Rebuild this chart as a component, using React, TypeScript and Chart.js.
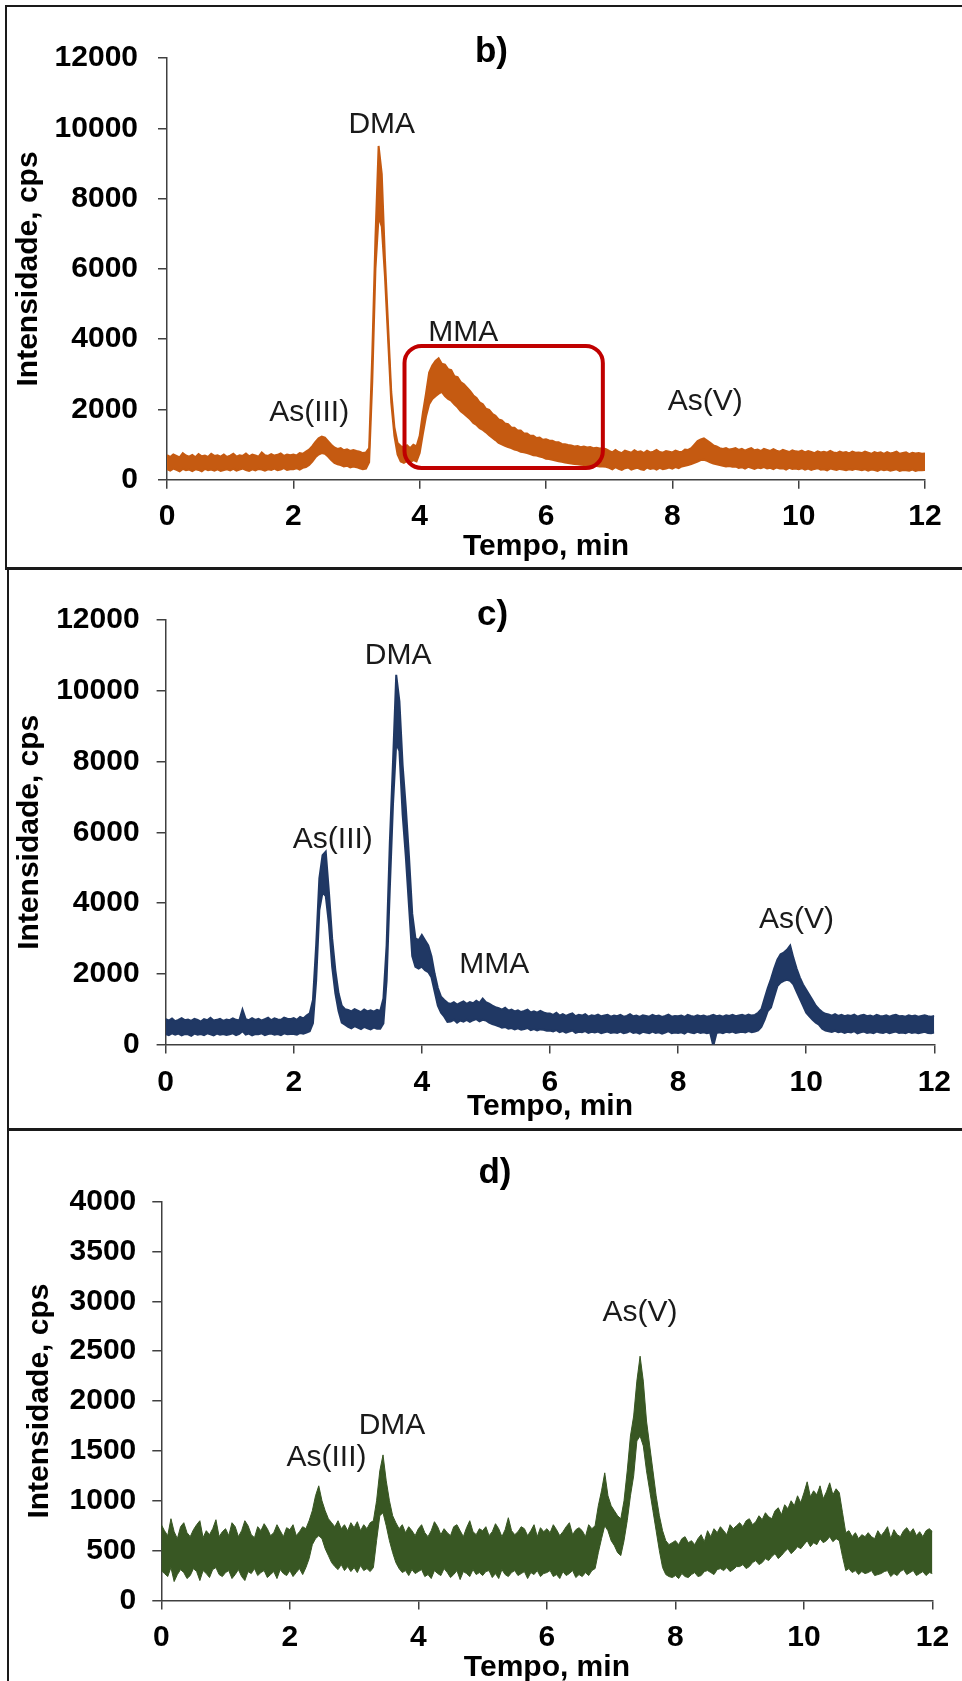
import React, { useEffect, useRef } from "react";
import { Chart, registerables } from "chart.js";

Chart.register(...registerables);

const FONT = '"Liberation Sans", Arial, Helvetica, sans-serif';
Chart.defaults.font.family = FONT;

// Each trace is sampled every SAMPLE_STEP minutes (sample i is at i * SAMPLE_STEP).
// HI / LO are the upper and lower edges of the noisy trace read off the picture.
const SAMPLE_STEP = 0.05;

const X_MIN = 0;
const X_MAX = 12;
const X_STEP = 2;
const X_TITLE = "Tempo, min";
const Y_TITLE = "Intensidade, cps";

// ---------- panel b ----------
const B_TITLE = "b)";
const B_Y_MAX = 12000;
const B_Y_STEP = 2000;
const B_HI = [
  700, 650, 720, 680, 640, 760, 690, 660, 710, 640, 730, 670, 690, 650, 740, 680, 700, 660, 720, 650,
  690, 740, 660, 700, 680, 750, 670, 720, 690, 660, 780, 700, 680, 730, 690, 710, 750, 680, 720, 700,
  720, 690, 760, 740, 800, 860, 960, 1080, 1180, 1230, 1200, 1100, 1000, 920, 880, 900, 840, 870, 820, 850,
  820, 800, 760, 780, 900, 3600, 6900, 9500, 8700, 6300, 4400, 2500, 1500, 1050, 960, 920, 980, 900, 1000, 950,
  1250, 1900, 2450, 3050, 3250, 3380, 3460, 3300, 3280, 3150, 3120, 2950, 2920, 2780, 2720, 2620, 2520, 2400, 2330, 2200,
  2150, 2020, 1990, 1880, 1820, 1720, 1690, 1600, 1580, 1490, 1480, 1400, 1400, 1320, 1320, 1250, 1250, 1190, 1200, 1140,
  1150, 1120, 1110, 1070, 1070, 1020, 1010, 990, 980, 950, 960, 930, 950, 920, 930, 900, 910, 890, 900, 870,
  820, 780, 850, 790, 760, 830, 800, 770, 840, 790, 810, 760, 830, 780, 800, 850, 790, 770, 820, 800,
  780, 830, 800, 790, 860, 850, 900, 1000, 1100, 1150, 1180, 1120, 1050, 980, 950, 900, 880, 900, 860, 880,
  900, 850, 880, 830, 870, 900, 840, 860, 820, 880, 850, 820, 870, 830, 800, 850, 820, 790, 840, 810,
  800, 830, 780, 820, 790, 760, 810, 780, 800, 770, 820, 780, 760, 800, 770, 790, 750, 800, 770, 780,
  760, 800, 770, 740, 790, 760, 780, 740, 790, 750, 770, 800, 740, 760, 780, 730, 770, 750, 760, 740,
  750,
];
const B_LO = [
  300, 260, 320, 280, 240, 310, 270, 290, 250, 300, 280, 240, 310, 270, 290, 260, 300, 250, 280, 300,
  270, 310, 260, 290, 320, 280, 250, 300, 270, 310, 290, 260, 300, 280, 320, 270, 290, 330, 280, 300,
  300, 330, 290, 340, 360, 420, 520, 640, 720, 760, 740, 660, 560, 480, 440, 420, 380, 400, 350, 380,
  360, 330, 300, 320, 500, 2800, 6000, 7500, 7200, 5800, 4000, 2200, 1250, 720, 520, 480, 540, 500, 560, 520,
  760, 1300, 1800, 2150, 2300, 2380, 2450, 2500, 2380, 2300, 2250, 2150, 2060, 1950, 1880, 1800, 1720, 1620, 1560, 1470,
  1420, 1350, 1270, 1200, 1130, 1050, 1010, 970, 930, 900, 860, 840, 800, 780, 760, 730, 700, 690, 660, 640,
  600, 590, 570, 550, 530, 510, 490, 480, 460, 450, 440, 430, 420, 420, 410, 400, 390, 380, 380, 370,
  340, 300, 360, 310, 280, 330, 350, 290, 320, 340, 300, 280, 350, 310, 330, 290, 340, 300, 320, 350,
  320, 360, 330, 380, 400, 420, 450, 480, 520, 560, 570, 540, 500, 460, 440, 420, 400, 380, 390, 370,
  380, 340, 360, 320, 370, 340, 310, 350, 330, 360, 320, 340, 300, 350, 320, 330, 290, 340, 310, 320,
  300, 330, 290, 320, 280, 310, 330, 290, 300, 270, 320, 300, 280, 310, 290, 270, 300, 280, 310, 290,
  270, 300, 260, 290, 280, 250, 300, 270, 290, 260, 280, 300, 250, 280, 270, 260, 290, 250, 280, 270,
  280,
];
const B_LABELS = [
  { text: "DMA", t: 3.4, v: 10170 },
  { text: "MMA", t: 4.69, v: 4263 },
  { text: "As(III)", t: 2.25, v: 1978 },
  { text: "As(V)", t: 8.52, v: 2291 },
];
const B_BOX = { t0: 3.76, t1: 6.9, v0: 336, v1: 3808 };

// ---------- panel c ----------
const C_TITLE = "c)";
const C_Y_MAX = 12000;
const C_Y_STEP = 2000;
const C_HI = [
  720, 680, 740, 660, 700, 750, 690, 710, 670, 730, 700, 650, 720, 690, 760, 680, 700, 730, 670, 710,
  690, 740, 700, 680, 990, 720, 690, 750, 700, 730, 680, 720, 760, 690, 740, 710, 700, 760, 730, 720,
  750, 700, 780, 740, 820, 880, 1260, 2800, 4700, 5350, 5450, 4300, 3000, 2100, 1450, 1100, 1000, 980, 940, 1000,
  960, 920, 990, 940, 970, 930, 980, 950, 1300, 2800, 5700, 8000, 10450, 9700, 7900, 6700, 5300, 3700, 3000, 2950,
  3100, 2950, 2800, 2500, 2000, 1600, 1350, 1260, 1180, 1150, 1200, 1130, 1180, 1220, 1150, 1200, 1170, 1240, 1180, 1300,
  1200, 1160, 1100, 1060, 1030, 990, 1040, 960, 990, 940, 970, 920, 950, 990, 910, 940, 900, 950, 910, 880,
  880, 840, 900, 820, 860, 810, 850, 880, 800, 840, 820, 860, 790, 830, 810, 850, 800, 820, 840, 790,
  820, 800, 840, 790, 810, 860, 800, 820, 780, 830, 810, 790, 840, 800, 820, 780, 810, 850, 790, 810,
  800, 820, 780, 840, 810, 790, 830, 800, 820, 790, 810, 840, 800, 820, 790, 830, 810, 840, 800, 820,
  840, 810, 850, 820, 840, 900, 1000, 1300, 1600, 1850, 2150, 2400, 2550, 2600, 2680, 2800, 2450, 2150, 1900, 1700,
  1550, 1400, 1250, 1100, 1000, 920, 870, 850, 820, 860, 810, 840, 800, 830, 810, 850, 790, 820, 840, 800,
  820, 790, 840, 810, 800, 830, 790, 820, 840, 800, 810, 790, 830, 800, 820, 790, 810, 830, 800, 790,
  810,
];
const C_LO = [
  300, 270, 320, 280, 310, 260, 300, 290, 250, 310, 280, 300, 270, 320, 290, 260, 310, 280, 300, 270,
  290, 320, 270, 300, 380, 280, 310, 260, 300, 290, 320, 270, 300, 310, 280, 300, 270, 320, 290, 300,
  300, 280, 330, 310, 340, 380, 600, 1800, 3800, 4300, 4200, 3400, 2200, 1450, 950, 620, 560, 500, 460, 520,
  480, 440, 500, 460, 430, 480, 450, 450, 600, 1800, 4400, 6800, 8500, 8300, 6500, 5300, 3900, 2500, 2200, 2150,
  2200, 2100, 2050, 1900, 1500, 1100, 900, 790, 640, 650, 700, 620, 680, 650, 700, 640, 690, 720, 660, 700,
  680, 620, 580, 550, 520, 480, 500, 450, 470, 430, 460, 420, 440, 470, 410, 440, 400, 430, 420, 390,
  400, 370, 410, 350, 380, 340, 370, 400, 330, 360, 350, 380, 330, 360, 340, 370, 320, 350, 370, 330,
  350, 330, 370, 320, 340, 380, 330, 350, 310, 360, 340, 320, 370, 330, 350, 310, 340, 380, 320, 340,
  330, 350, 310, 370, 340, 320, 360, 330, 350, 320, 340, -40, 330, 350, 320, 360, 340, 370, 330, 350,
  360, 340, 380, 350, 370, 400, 500, 700, 950, 1050, 1350, 1650, 1750, 1800, 1830, 1800, 1700, 1500, 1300, 1100,
  900, 800, 700, 620, 560, 450, 400, 380, 360, 390, 350, 370, 330, 360, 340, 380, 320, 350, 370, 330,
  350, 320, 370, 340, 330, 360, 320, 350, 370, 330, 340, 320, 360, 330, 350, 320, 340, 360, 330, 320,
  340,
];
const C_LABELS = [
  { text: "DMA", t: 3.63, v: 11047 },
  { text: "As(III)", t: 2.61, v: 5867 },
  { text: "MMA", t: 5.13, v: 2329 },
  { text: "As(V)", t: 9.85, v: 3592 },
];

// ---------- panel d ----------
const D_TITLE = "d)";
const D_Y_MAX = 4000;
const D_Y_STEP = 500;
const D_HI = [
  760, 700, 650, 820, 690, 620, 740, 780, 680, 640, 710, 760, 800, 630, 700, 660, 720, 810, 640, 690,
  720, 650, 780, 740, 640, 700, 800, 750, 660, 630, 740, 700, 770, 720, 650, 680, 760, 700, 640, 730,
  710, 760, 650, 690, 740, 720, 800, 900, 1050, 1150, 1000, 900, 820, 780, 740, 800, 720, 760, 700, 780,
  730, 790, 700, 760, 720, 780, 800, 1000, 1300, 1460, 1200, 1000, 850, 780, 720, 760, 680, 740, 700, 650,
  720, 760, 680, 640, 700, 790, 740, 660, 720, 680, 650, 740, 760, 700, 640, 730, 800, 690, 660, 720,
  700, 740, 650, 690, 770, 720, 640, 710, 830, 700, 660, 690, 740, 720, 650, 700, 760, 640, 730, 690,
  720, 680, 760, 710, 650, 690, 740, 780, 660, 710, 730, 700, 640, 760, 720, 750, 950, 1100, 1280, 1050,
  950, 900, 850, 820, 1000, 1300, 1650, 1850, 2200, 2450, 2200, 1800, 1550, 1300, 1050, 850, 700, 600, 560, 580,
  600, 560, 620, 640, 580, 600, 560, 620, 660, 590, 700, 640, 720, 680, 740, 700, 660, 760, 720, 750,
  780, 740, 800, 820, 760, 790, 850, 810, 880, 840, 820, 900, 930, 860, 960, 920, 1000, 950, 1050, 980,
  1080, 1190, 1040, 1100, 1060, 1150, 1020, 1090, 1180, 1060, 1120, 1080, 880, 680, 700, 640, 680, 620, 660, 640,
  680, 640, 620, 700, 650, 690, 740, 620, 710, 660, 640, 700, 730, 680, 720, 650, 690, 640, 700, 720,
  690,
];
const D_LO = [
  300, 270, 240, 330, 190, 260, 310, 280, 220, 250, 320, 290, 200, 300, 270, 230, 310, 330, 260, 240,
  280, 300, 220, 260, 310, 240, 200, 290, 270, 320, 250, 280, 300, 230, 260, 290, 220, 310, 270, 250,
  300, 240, 280, 320, 260, 330, 420, 560, 620, 650, 620, 520, 450, 380, 340, 310, 360, 300, 340, 290,
  330, 280, 350, 300, 320, 290, 330, 600, 850, 880, 750, 600, 480, 380, 320, 280, 300, 250, 310, 270,
  290, 310, 240, 260, 220, 300, 270, 250, 320, 280, 230, 260, 300, 210, 290, 270, 240, 310, 260, 280,
  250, 290, 300, 230, 270, 220, 310, 260, 240, 280, 300, 250, 270, 290, 220, 280, 260, 300, 240, 270,
  280, 300, 240, 260, 220, 290, 250, 270, 300, 230, 260, 240, 280, 250, 300, 320, 480, 620, 750, 700,
  600, 550, 480, 450, 600, 800, 1050, 1250, 1600, 1650, 1550, 1300, 1100, 900, 700, 500, 330, 260, 240, 230,
  250, 220, 270, 240, 230, 260, 280, 240, 250, 290, 300, 280, 260, 310, 320, 300, 330, 290, 310, 340,
  340, 360, 320, 340, 380, 400, 360, 380, 420, 400, 440, 470, 420, 450, 490, 520, 470, 500, 540, 520,
  560, 600, 540, 580, 560, 620, 580, 600, 640, 590, 620, 600, 440, 300, 320, 280, 300, 260, 290, 270,
  280, 300, 250, 260, 270, 290, 300, 240, 270, 250, 290, 310, 260, 280, 300, 250, 270, 290, 250, 280,
  270,
];
const D_LABELS = [
  { text: "As(V)", t: 7.45, v: 2910 },
  { text: "DMA", t: 3.59, v: 1781 },
  { text: "As(III)", t: 2.57, v: 1453 },
];

type Label = { text: string; t: number; v: number };
type Box = { t0: number; t1: number; v0: number; v1: number };
type PanelCfg = {
  key: string;
  top: number;
  height: number;
  title: string;
  titleX: number;
  titleY: number;
  color: string;
  lineWidth: number;
  hi: number[];
  lo: number[];
  yMax: number;
  yStep: number;
  area: { left: number; right: number; top: number; bottom: number };
  xScaleBottom: number;
  yTickPad: number;
  xTickPad: number;
  yTitlePad: number;
  labels: Label[];
  box?: Box;
};

const PANELS: PanelCfg[] = [
  {
    key: "b", top: 0, height: 568, title: B_TITLE, titleX: 491.5, titleY: 61.5,
    color: "#C55A11", lineWidth: 2, hi: B_HI, lo: B_LO, yMax: B_Y_MAX, yStep: B_Y_STEP,
    area: { left: 167, right: 925, top: 58.1, bottom: 479.8 }, xScaleBottom: 564.5,
    yTickPad: 20, xTickPad: 10, yTitlePad: 10.3, labels: B_LABELS, box: B_BOX,
  },
  {
    key: "c", top: 568, height: 561, title: C_TITLE, titleX: 492.5, titleY: 57,
    color: "#203864", lineWidth: 2, hi: C_HI, lo: C_LO, yMax: C_Y_MAX, yStep: C_Y_STEP,
    area: { left: 165.6, right: 937.4, top: 51.9, bottom: 476.6 }, xScaleBottom: 556.8,
    yTickPad: 17, xTickPad: 11, yTitlePad: 11.5, labels: C_LABELS,
  },
  {
    key: "d", top: 1129, height: 560, title: D_TITLE, titleX: 495, titleY: 53.5,
    color: "#385723", lineWidth: 1, hi: D_HI, lo: D_LO, yMax: D_Y_MAX, yStep: D_Y_STEP,
    area: { left: 161.3, right: 932.5, top: 72.6, bottom: 471.5 }, xScaleBottom: 556.8,
    yTickPad: 16, xTickPad: 10, yTitlePad: 21.9, labels: D_LABELS,
  },
];

const AXIS_COLOR = "#404040";

function Panel({ cfg }: { cfg: PanelCfg }) {
  const ref = useRef<HTMLCanvasElement>(null);
  useEffect(() => {
    const canvas = ref.current;
    if (!canvas) return;
    const n = Math.min(cfg.hi.length, cfg.lo.length);
    const toPts = (arr: number[]) =>
      arr.slice(0, n).map((y, i) => ({ x: Math.round(i * SAMPLE_STEP * 1000) / 1000, y }));

    const overlay = {
      id: "overlay_" + cfg.key,
      afterDatasetsDraw(chart: any) {
        if (!cfg.box) return;
        const xs = chart.scales.x;
        const ys = chart.scales.y;
        const ctx = chart.ctx;
        const x0 = xs.getPixelForValue(cfg.box.t0);
        const x1 = xs.getPixelForValue(cfg.box.t1);
        const y0 = ys.getPixelForValue(cfg.box.v1);
        const y1 = ys.getPixelForValue(cfg.box.v0);
        ctx.save();
        ctx.lineWidth = 4;
        ctx.strokeStyle = "#C00000";
        ctx.beginPath();
        (ctx as any).roundRect(x0, y0, x1 - x0, y1 - y0, 17);
        ctx.stroke();
        ctx.restore();
      },
      afterDraw(chart: any) {
        const xs = chart.scales.x;
        const ys = chart.scales.y;
        const ctx = chart.ctx;
        ctx.save();
        ctx.fillStyle = "#1a1a1a";
        ctx.font = `30px ${FONT}`;
        ctx.textAlign = "center";
        ctx.textBaseline = "alphabetic";
        for (const l of cfg.labels) {
          ctx.fillText(l.text, xs.getPixelForValue(l.t), ys.getPixelForValue(l.v) + 0.358 * 30);
        }
        ctx.fillStyle = "#000";
        ctx.font = `bold 35px ${FONT}`;
        ctx.fillText(cfg.title, cfg.titleX, cfg.titleY);
        ctx.restore();
      },
    };

    const tickFont = { size: 30, weight: "bold" as const, family: FONT };
    const chart = new Chart(canvas, {
      type: "line",
      data: {
        datasets: [
          {
            data: toPts(cfg.hi),
            borderColor: cfg.color,
            backgroundColor: cfg.color,
            borderWidth: cfg.lineWidth,
            pointRadius: 0,
            fill: false,
          },
          {
            data: toPts(cfg.lo),
            borderColor: cfg.color,
            backgroundColor: cfg.color,
            borderWidth: cfg.lineWidth,
            pointRadius: 0,
            fill: "-1",
          },
        ],
      },
      options: {
        responsive: false,
        animation: false,
        devicePixelRatio: 1,
        events: [],
        elements: { line: { tension: 0 } },
        layout: {
          padding: {
            left: 0,
            top: cfg.area.top,
            right: 962 - cfg.area.right,
            bottom: cfg.height - cfg.xScaleBottom,
          },
        },
        plugins: {
          legend: { display: false },
          tooltip: { enabled: false },
          title: { display: false },
        },
        scales: {
          x: {
            type: "linear",
            min: X_MIN,
            max: X_MAX,
            ticks: {
              stepSize: X_STEP,
              autoSkip: false,
              maxRotation: 0,
              color: "#000",
              font: tickFont,
              padding: cfg.xTickPad,
              callback: (v: any) => String(v),
            },
            grid: { drawOnChartArea: false, drawTicks: true, tickLength: 9, color: AXIS_COLOR, lineWidth: 1.5 },
            border: { display: true, color: AXIS_COLOR, width: 1.5 },
            title: {
              display: true,
              text: X_TITLE,
              color: "#000",
              font: { size: 30, weight: "bold", family: FONT },
              padding: { top: 0, bottom: 0 },
            },
            afterFit: (s: any) => {
              s.height = cfg.xScaleBottom - cfg.area.bottom;
            },
          },
          y: {
            type: "linear",
            min: 0,
            max: cfg.yMax,
            ticks: {
              stepSize: cfg.yStep,
              color: "#000",
              font: tickFont,
              padding: cfg.yTickPad,
              callback: (v: any) => String(v),
            },
            grid: { drawOnChartArea: false, drawTicks: true, tickLength: 9, color: AXIS_COLOR, lineWidth: 1.5 },
            border: { display: true, color: AXIS_COLOR, width: 1.5 },
            title: {
              display: true,
              text: Y_TITLE,
              color: "#000",
              font: { size: 30, weight: "bold", family: FONT },
              padding: { top: cfg.yTitlePad, bottom: 0 },
            },
            afterFit: (s: any) => {
              s.width = cfg.area.left;
            },
          },
        },
      } as any,
      plugins: [overlay as any],
    });
    return () => chart.destroy();
  }, [cfg]);
  return (
    <canvas
      ref={ref}
      width={962}
      height={cfg.height}
      style={{ position: "absolute", left: 0, top: cfg.top, width: 962, height: cfg.height, display: "block" }}
    />
  );
}

const line = (left: number, top: number, width: number, height: number) => (
  <div style={{ position: "absolute", left, top, width, height, background: "#1a1a1a" }} />
);

export default function App() {
  return (
    <div
      style={{
        position: "absolute",
        left: 0,
        top: 0,
        width: 962,
        height: 1681,
        overflow: "hidden",
        background: "#ffffff",
      }}
    >
      {PANELS.map((p) => (
        <Panel key={p.key} cfg={p} />
      ))}
      {line(5, 5, 957, 2)}
      {line(5, 5, 2, 563)}
      {line(5, 567, 957, 3)}
      {line(7, 567, 2, 563)}
      {line(7, 1128, 955, 3)}
      {line(7, 1128, 2, 553)}
    </div>
  );
}
